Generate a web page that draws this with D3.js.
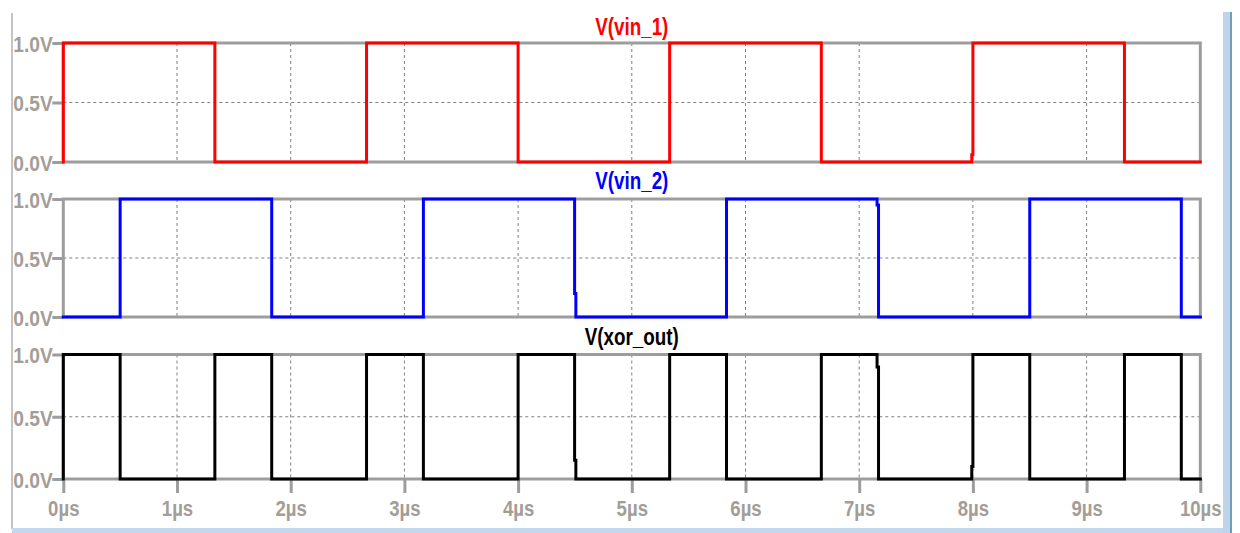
<!DOCTYPE html>
<html>
<head>
<meta charset="utf-8">
<script src="https://cdn.jsdelivr.net/npm/d3@7"></script>
<style>
  html, body { margin: 0; padding: 0; background: #fff; }
  svg { display: block; font-family: "Liberation Sans", Arial, sans-serif; }
</style>
</head>
<body>
<svg id="chart" width="1240" height="533"></svg>
<script>
// ---- data (time in µs, voltage in V) ----
const vin1Time = [0, 0, 1.333, 1.333, 2.667, 2.667, 4.0, 4.0, 5.333, 5.333, 6.667, 6.667, 7.99, 7.99, 8.0, 8.0, 9.333, 9.333, 10];
const vin1Volt = [0, 1, 1, 0, 0, 1, 1, 0, 0, 1, 1, 0, 0, 0.06, 0.06, 1, 1, 0, 0];

const vin2Time = [0, 0.5, 0.5, 1.833, 1.833, 3.167, 3.167, 4.497, 4.497, 4.508, 4.508, 5.833, 5.833, 7.157, 7.157, 7.17, 7.17, 8.5, 8.5, 9.833, 9.833, 10];
const vin2Volt = [0, 0, 1, 1, 0, 0, 1, 1, 0.2, 0.2, 0, 0, 1, 1, 0.95, 0.95, 0, 0, 1, 1, 0, 0];

const xorTime = [0, 0, 0.5, 0.5, 1.333, 1.333, 1.833, 1.833, 2.667, 2.667, 3.167, 3.167, 4.0, 4.0, 4.497, 4.497, 4.508, 4.508, 5.333, 5.333, 5.833, 5.833, 6.667, 6.667, 7.157, 7.157, 7.17, 7.17, 7.99, 7.99, 8.0, 8.0, 8.5, 8.5, 9.333, 9.333, 9.833, 9.833, 10];
const xorVolt = [0, 1, 1, 0, 0, 1, 1, 0, 0, 1, 1, 0, 0, 1, 1, 0.15, 0.15, 0, 0, 1, 1, 0, 0, 1, 1, 0.9, 0.9, 0, 0, 0.1, 0.1, 1, 1, 0, 0, 1, 1, 0, 0];

const traceNames = ["V(vin_1)", "V(vin_2)", "V(xor_out)"];
const xTicks = [0, 1, 2, 3, 4, 5, 6, 7, 8, 9, 10];
const xTickLabels = ["0µs", "1µs", "2µs", "3µs", "4µs", "5µs", "6µs", "7µs", "8µs", "9µs", "10µs"];
const yTicks = [0, 0.5, 1.0];
const yTickLabels = ["0.0V", "0.5V", "1.0V"];

// ---- layout ----
const svg = d3.select("#chart");
const x = d3.scaleLinear().domain([0, 10]).range([63.3, 1200.3]);
const panels = [
  { time: vin1Time, volt: vin1Volt, color: "#ff0000", top: 43, bottom: 162, titleY: 35 },
  { time: vin2Time, volt: vin2Volt, color: "#0000ff", top: 199, bottom: 317, titleY: 189 },
  { time: xorTime,  volt: xorVolt,  color: "#000000", top: 354.5, bottom: 479, titleY: 345 }
];
const gray = "#9d9d9d";
const labelGray = "#a39d98";

// window frame decorations
svg.append("line").attr("x1", 12).attr("x2", 12).attr("y1", 13).attr("y2", 529)
  .attr("stroke", "#b0b0b0").attr("stroke-width", 1.5);
svg.append("rect").attr("x", 12).attr("y", 528).attr("width", 1219).attr("height", 5).attr("fill", "#c4d7ec");
svg.append("rect").attr("x", 1223).attr("y", 12).attr("width", 7).attr("height", 521).attr("fill", "#bfd3ea");
svg.append("line").attr("x1", 1231).attr("x2", 1231).attr("y1", 12).attr("y2", 533)
  .attr("stroke", "#3f7f9f").attr("stroke-width", 1.5);

panels.forEach((p, i) => {
  const y = d3.scaleLinear().domain([0, 1]).range([p.bottom, p.top]);
  const g = svg.append("g");

  // dashed grid
  g.selectAll("line.vgrid").data(xTicks.slice(1, -1)).join("line")
    .attr("class", "vgrid")
    .attr("x1", d => x(d)).attr("x2", d => x(d))
    .attr("y1", p.top).attr("y2", p.bottom)
    .attr("stroke", "#808080").attr("stroke-width", 1).attr("stroke-dasharray", "3,3");
  g.append("line")
    .attr("x1", x(0)).attr("x2", x(10)).attr("y1", y(0.5)).attr("y2", y(0.5))
    .attr("stroke", "#808080").attr("stroke-width", 1).attr("stroke-dasharray", "3,3");

  // panel border
  g.append("rect")
    .attr("x", x(0)).attr("y", y(1)).attr("width", x(10) - x(0)).attr("height", y(0) - y(1))
    .attr("fill", "none").attr("stroke", gray).attr("stroke-width", 3);

  // y axis
  const yAxis = d3.axisLeft(y).tickValues(yTicks)
    .tickFormat(d => yTickLabels[yTicks.indexOf(d)])
    .tickSize(11).tickPadding(0);
  const ya = g.append("g").attr("transform", `translate(${x(0)},0)`).call(yAxis);
  ya.select(".domain").remove();
  ya.selectAll(".tick line").attr("stroke", gray).attr("stroke-width", 3);
  ya.selectAll(".tick text")
    .attr("x", -11).attr("y", 0).attr("dy", null)
    .attr("transform", "translate(0,8.4) scale(0.96,1.12)")
    .attr("fill", labelGray).style("font-size", "20px").style("font-weight", "bold");

  // x axis (bottom panel only)
  if (i === panels.length - 1) {
    const xAxis = d3.axisBottom(x).tickValues(xTicks)
      .tickFormat(d => xTickLabels[xTicks.indexOf(d)]).tickSize(14);
    const xa = g.append("g").attr("transform", `translate(0,${p.bottom})`).call(xAxis);
    xa.select(".domain").remove();
    xa.selectAll(".tick line").attr("stroke", gray).attr("stroke-width", 3);
    xa.selectAll(".tick text")
      .attr("y", 0).attr("dy", null)
      .attr("transform", "translate(0,37) scale(0.93,1.14)")
      .attr("fill", labelGray).style("font-size", "20px").style("font-weight", "bold");
  }

  // trace
  const pts = p.time.map((t, k) => [t, p.volt[k]]);
  const line = d3.line().x(d => x(d[0])).y(d => y(d[1]));
  g.append("path").datum(pts)
    .attr("d", line).attr("fill", "none")
    .attr("stroke", p.color).attr("stroke-width", 3)
    .attr("stroke-linejoin", "miter").attr("stroke-linecap", "square");

  // title
  g.append("text")
    .attr("transform", `translate(${(x(0) + x(10)) / 2},${p.titleY}) scale(0.94,1.16)`)
    .attr("text-anchor", "middle")
    .attr("fill", p.color)
    .style("font-size", "20px").style("font-weight", "bold")
    .text(traceNames[i]);
});
</script>
</body>
</html>
